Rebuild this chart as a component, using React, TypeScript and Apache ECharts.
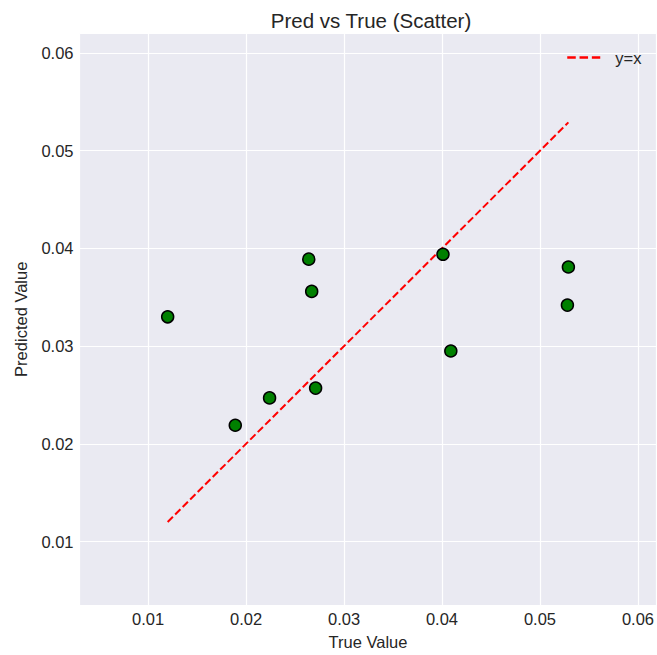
import React, { useEffect, useRef } from "react";
import * as echarts from "echarts";

const trueValues = [0.0120, 0.0189, 0.0224, 0.0264, 0.0267, 0.0271, 0.0401, 0.0409, 0.0529, 0.0528];
const predValues = [0.0330, 0.0219, 0.0247, 0.0389, 0.0356, 0.0257, 0.0394, 0.0295, 0.0381, 0.0342];
const titleText = "Pred vs True (Scatter)";
const xName = "True Value";
const yName = "Predicted Value";
const lineName = "y=x";

const FONT = "'Liberation Sans', Arial, sans-serif";
const TEXT = "#262626";

export default function App() {
  const ref = useRef<HTMLDivElement>(null);
  useEffect(() => {
    document.body.style.margin = "0";
    if (!ref.current) return;
    const chart = echarts.init(ref.current, undefined, { renderer: "svg" });
    const lo = Math.min(...trueValues);
    const hi = Math.max(...trueValues);
    const points = trueValues.map((t, i) => [t, predValues[i]]);
    chart.setOption({
      animation: false,
      backgroundColor: "#ffffff",
      textStyle: { fontFamily: FONT, color: TEXT },
      title: {
        text: titleText,
        left: 366,
        textAlign: "center",
        top: 5,
        textStyle: { fontFamily: FONT, fontSize: 20.5, fontWeight: "normal", color: TEXT },
      },
      legend: {
        data: [lineName],
        left: 566,
        top: 49,
        padding: 0,
        itemWidth: 33,
        itemHeight: 16,
        itemStyle: { color: "transparent", borderWidth: 0, opacity: 0 },
        lineStyle: { color: "#ff0000", width: 2.5, type: [8.5, 3.8] },
        textStyle: { fontFamily: FONT, fontSize: 16.5, color: TEXT, padding: [0, 0, 0, 10] },
      },
      grid: {
        left: 79.5,
        right: 0,
        top: 33.5,
        bottom: 49,
        show: true,
        backgroundColor: "#EAEAF2",
        borderWidth: 0,
      },
      xAxis: {
        type: "value",
        min: 0.0030,
        max: 0.0619,
        splitNumber: 6,
        name: xName,
        nameLocation: "middle",
        nameGap: 28,
        nameTextStyle: { fontFamily: FONT, fontSize: 16.5, color: TEXT },
        axisLine: { show: false },
        axisTick: { show: false },
        axisLabel: {
          showMinLabel: false,
          showMaxLabel: false,
          margin: 5,
          fontFamily: FONT,
          fontSize: 16.5,
          color: TEXT,
          formatter: (v: number) => v.toFixed(2),
        },
        splitLine: { show: true, lineStyle: { color: "#ffffff", width: 1.2 } },
      },
      yAxis: {
        type: "value",
        min: 0.0035,
        max: 0.0620,
        splitNumber: 6,
        name: yName,
        nameLocation: "middle",
        nameGap: 50,
        nameTextStyle: { fontFamily: FONT, fontSize: 16.5, color: TEXT },
        axisLine: { show: false },
        axisTick: { show: false },
        axisLabel: {
          showMinLabel: false,
          showMaxLabel: false,
          margin: 6,
          fontFamily: FONT,
          fontSize: 16.5,
          color: TEXT,
          formatter: (v: number) => v.toFixed(2),
        },
        splitLine: { show: true, lineStyle: { color: "#ffffff", width: 1.2 } },
      },
      series: [
        {
          name: lineName,
          type: "line",
          data: [[lo, lo], [hi, hi]],
          symbol: "none",
          z: 2,
          lineStyle: { color: "#ff0000", width: 2, type: [7.4, 3.2] },
          itemStyle: { color: "#ff0000" },
        },
        {
          name: "points",
          type: "scatter",
          data: points,
          symbol: "circle",
          symbolSize: 12,
          z: 3,
          itemStyle: { color: "#008000", borderColor: "#000000", borderWidth: 1.5, opacity: 1 },
        },
      ],
    });
    return () => chart.dispose();
  }, []);
  return <div ref={ref} style={{ width: 657, height: 655 }} />;
}
